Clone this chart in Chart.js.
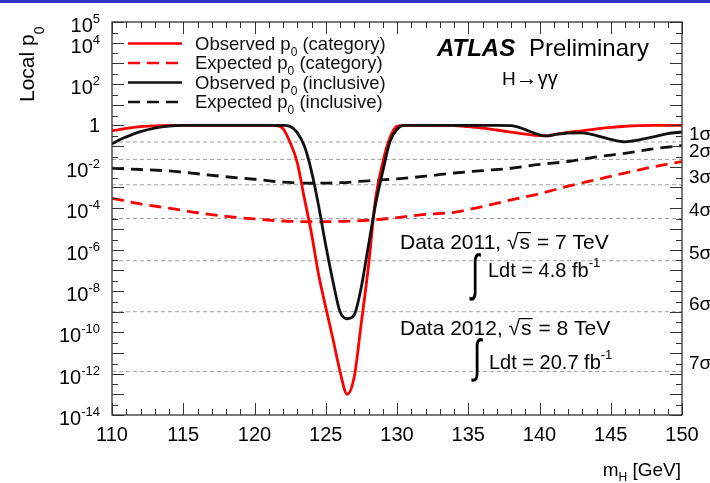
<!DOCTYPE html>
<html>
<head>
<meta charset="utf-8">
<script src="https://cdn.jsdelivr.net/npm/chart.js@4.4.1/dist/chart.umd.min.js"></script>
<style>
  html, body { margin: 0; padding: 0; background: #fff; }
  #wrap { position: relative; width: 710px; height: 483px; }
  #bar { position: absolute; left: 0; top: 0; width: 710px; height: 3px; background: #3434cc; }
  canvas { display: block; }
</style>
</head>
<body>
<div id="wrap">
  <canvas id="chart" width="710" height="483"></canvas>
  <div id="bar"></div>
</div>
<script>
// Higgs mass points (GeV) for the observed curves
const massObs = [110, 110.5, 111, 112, 113, 114, 115, 116, 117, 118, 119, 120, 121, 121.5,
  122, 122.5, 123, 123.5, 124, 124.5, 125, 125.5, 126, 126.5, 127, 127.5, 128, 128.5,
  129, 129.5, 130, 130.5, 131, 132, 133, 134, 135, 136, 137, 138, 139, 140, 140.5,
  141, 142, 143, 144, 145, 146, 147, 148, 149, 150];

const obsCategory = [0.54, 0.63, 0.72, 0.87, 0.95, 1, 1, 1, 1, 1, 1, 1, 1, 0.98,
  0.7, 0.15, 0.016, 3e-4, 6e-6, 6e-8, 1.6e-9, 5e-11, 1.3e-12, 1e-13, 7e-13, 3e-10, 1.6e-7, 3e-4,
  0.016, 0.25, 0.9, 1, 1, 1, 1, 0.99, 0.87, 0.74, 0.6, 0.48, 0.38, 0.32, 0.31,
  0.36, 0.46, 0.55, 0.68, 0.8, 0.91, 0.98, 1, 1, 1];

const obsInclusive = [0.126, 0.2, 0.28, 0.5, 0.74, 0.93, 1, 1, 1, 1, 1, 1, 1, 1,
  1, 0.9, 0.45, 0.1, 6e-3, 1.3e-4, 1.6e-6, 3e-8, 1e-9, 4.5e-10, 7e-10, 1.6e-8, 1.6e-6, 1.6e-4,
  6e-3, 0.16, 0.65, 1, 1, 1, 1, 1, 1, 1, 1, 0.98, 0.63, 0.35, 0.31,
  0.35, 0.43, 0.44, 0.32, 0.21, 0.16, 0.2, 0.28, 0.4, 0.48];

// expected curves are smooth, every 2 GeV
const massExp = [110, 112, 114, 116, 118, 120, 122, 124, 126, 128, 130,
  132, 134, 136, 138, 140, 142, 144, 146, 148, 150];
const expCategory = [3e-4, 1.6e-4, 1e-4, 6e-5, 4e-5, 3e-5, 2.4e-5, 2.2e-5, 2.3e-5, 2.6e-5, 3.5e-5,
  5e-5, 6.3e-5, 1.2e-4, 2.5e-4, 5e-4, 1.15e-3, 2.4e-3, 5e-3, 1e-2, 1.8e-2];
const expInclusive = [8.5e-3, 7.4e-3, 6.3e-3, 4.6e-3, 3.3e-3, 2.5e-3, 1.8e-3, 1.6e-3, 1.7e-3, 2.1e-3, 2.6e-3,
  3.5e-3, 5e-3, 6.5e-3, 8.5e-3, 1.3e-2, 1.8e-2, 3e-2, 4.5e-2, 7.4e-2, 0.107];

const sigmaP = [0.1587, 0.02275, 1.35e-3, 3.17e-5, 2.87e-7, 9.87e-10, 1.28e-12];
const sigmaLabels = ["1σ", "2σ", "3σ", "4σ", "5σ", "6σ", "7σ"];

const xTicks = [110, 115, 120, 125, 130, 135, 140, 145, 150];
const yLabelExps = [5, 4, 2, 0, -2, -4, -6, -8, -10, -12, -14];

const legendNames = ["Observed p", "Expected p", "Observed p", "Expected p"];
const legendTails = [" (category)", " (category)", " (inclusive)", " (inclusive)"];

const FONT = '"Liberation Sans", Arial, Helvetica, sans-serif';

function series(xs, ys) {
  return xs.map((x, i) => ({ x, y: ys[i] }));
}

function drawParts(ctx, parts, x, y) {
  ctx.textAlign = "left";
  for (const p of parts) {
    ctx.font = `${p.style || ""} ${p.size}px ${FONT}`;
    ctx.fillText(p.text, x, y + (p.dy || 0));
    x += ctx.measureText(p.text).width;
  }
  return x;
}

function partsWidth(ctx, parts) {
  let w = 0;
  for (const p of parts) {
    ctx.font = `${p.style || ""} ${p.size}px ${FONT}`;
    w += ctx.measureText(p.text).width;
  }
  return w;
}

// sqrt(s) with an overline, returns end x
function drawSqrtS(ctx, x, y, size) {
  ctx.font = `${size}px ${FONT}`;
  const wr = ctx.measureText("√").width;
  ctx.fillText("√", x, y);
  const ws = ctx.measureText("s").width;
  ctx.fillText("s", x + wr + 1, y);
  ctx.beginPath();
  ctx.lineWidth = 1.2;
  ctx.moveTo(x + wr - 1, y - size * 0.78);
  ctx.lineTo(x + wr + ws + 2, y - size * 0.78);
  ctx.stroke();
  return x + wr + ws + 2;
}

function drawIntegral(ctx, x, yMid, stretch) {
  ctx.save();
  ctx.translate(x, yMid);
  ctx.scale(1.1, stretch);
  ctx.font = `28px ${FONT}`;
  ctx.textBaseline = "middle";
  ctx.textAlign = "left";
  ctx.fillText("∫", 0, 0);
  ctx.restore();
}

const rootFrame = {
  id: "rootFrame",
  afterDraw(chart) {
    const ctx = chart.ctx;
    const area = chart.chartArea;
    const xs = chart.scales.x;
    const ys = chart.scales.y;
    ctx.save();
    ctx.fillStyle = "#000";
    ctx.strokeStyle = "#333";
    ctx.textBaseline = "alphabetic";

    // frame
    ctx.lineWidth = 1.3;
    ctx.strokeRect(area.left, area.top, area.right - area.left, area.bottom - area.top);

    // x ticks, bottom and top, pointing inward
    ctx.lineWidth = 1;
    for (let m = 110; m <= 150; m++) {
      const px = Math.round(xs.getPixelForValue(m)) + 0.5;
      const len = m % 5 === 0 ? 12 : 6;
      ctx.beginPath();
      ctx.moveTo(px, area.bottom); ctx.lineTo(px, area.bottom - len);
      ctx.moveTo(px, area.top); ctx.lineTo(px, area.top + len);
      ctx.stroke();
    }
    // y ticks, left and right
    for (let e = -14; e <= 5; e++) {
      const py = Math.round(ys.getPixelForValue(Math.pow(10, e))) + 0.5;
      ctx.beginPath();
      ctx.moveTo(area.left, py); ctx.lineTo(area.left + 12, py);
      ctx.moveTo(area.right, py); ctx.lineTo(area.right - 12, py);
      ctx.stroke();
      if (e < 5) {
        const ph = Math.round(ys.getPixelForValue(3 * Math.pow(10, e))) + 0.5;
        ctx.beginPath();
        ctx.moveTo(area.left, ph); ctx.lineTo(area.left + 6, ph);
        ctx.moveTo(area.right, ph); ctx.lineTo(area.right - 6, ph);
        ctx.stroke();
      }
    }

    // x tick labels
    ctx.font = `20px ${FONT}`;
    ctx.textAlign = "center";
    for (const t of xTicks) {
      ctx.fillText(String(t), xs.getPixelForValue(t), area.bottom + 26);
    }

    // y tick labels 10^n
    for (const e of yLabelExps) {
      const py = ys.getPixelForValue(Math.pow(10, e));
      const parts = e === 0
        ? [{ text: "1", size: 20 }]
        : [{ text: "10", size: 20 }, { text: String(e), size: 13, dy: -9 }];
      const w = partsWidth(ctx, parts);
      drawParts(ctx, parts, 100 - w, py + (e === 0 ? 7 : 10));
    }

    // axis titles
    const xt = [{ text: "m", size: 19 }, { text: "H", size: 12, dy: 5 }, { text: " [GeV]", size: 19 }];
    drawParts(ctx, xt, 681 - partsWidth(ctx, xt), 476);

    ctx.save();
    ctx.translate(34, 102);
    ctx.rotate(-Math.PI / 2);
    drawParts(ctx, [{ text: "Local p", size: 21 }, { text: "0", size: 14, dy: 10 }], 0, 0);
    ctx.restore();

    // sigma labels on the right
    ctx.font = `19px ${FONT}`;
    ctx.textAlign = "left";
    sigmaP.forEach((p, i) => {
      ctx.fillText(sigmaLabels[i], 689, ys.getPixelForValue(p) - 2);
    });

    // legend
    const rowsY = [43.5, 63, 82.5, 102];
    const lineSets = chart.data.datasets.filter((d) => d.legend);
    lineSets.forEach((d, i) => {
      ctx.save();
      ctx.strokeStyle = d.borderColor;
      ctx.lineWidth = 2.6;
      ctx.setLineDash(d.borderDash || []);
      ctx.beginPath();
      ctx.moveTo(128, rowsY[i]); ctx.lineTo(182, rowsY[i]);
      ctx.stroke();
      ctx.restore();
      ctx.fillStyle = "#111";
      drawParts(ctx, [
        { text: legendNames[i], size: 18.5 },
        { text: "0", size: 12, dy: 6 },
        { text: legendTails[i], size: 18.5 }
      ], 195, rowsY[i] + 6);
    });

    // ATLAS label
    ctx.fillStyle = "#000";
    drawParts(ctx, [{ text: "ATLAS", size: 24, style: "italic bold" }], 437, 56);
    drawParts(ctx, [{ text: "Preliminary", size: 24 }], 529, 56);
    drawParts(ctx, [{ text: "H", size: 19 }, { text: "→", size: 22 }, { text: "γγ", size: 20 }], 502, 85);

    // data / luminosity texts
    ctx.strokeStyle = "#000";
    let x = drawParts(ctx, [{ text: "Data 2011, ", size: 21 }], 400, 249);
    x = drawSqrtS(ctx, x, 249, 21);
    drawParts(ctx, [{ text: " = 7 TeV", size: 21 }], x, 249);
    drawIntegral(ctx, 471, 276, 1.8);
    drawParts(ctx, [{ text: "Ldt = 4.8 fb", size: 20 }, { text: "-1", size: 13, dy: -10 }], 488, 277);

    x = drawParts(ctx, [{ text: "Data 2012, ", size: 21 }], 400, 335);
    x = drawSqrtS(ctx, x, 335, 21);
    drawParts(ctx, [{ text: " = 8 TeV", size: 21 }], x, 335);
    drawIntegral(ctx, 473, 359, 1.65);
    drawParts(ctx, [{ text: "Ldt = 20.7 fb", size: 20 }, { text: "-1", size: 13, dy: -10 }], 489, 369);

    ctx.restore();
  }
};

const sigmaSets = sigmaP.map((p) => ({
  data: [{ x: 110, y: p }, { x: 150, y: p }],
  borderColor: "#a0a0a0",
  borderWidth: 1,
  borderDash: [4, 3],
  tension: 0,
  order: 10
}));

new Chart(document.getElementById("chart"), {
  type: "line",
  data: {
    datasets: [
      { legend: true, label: "Observed p0 (category)", data: series(massObs, obsCategory),
        borderColor: "#ff0000", borderWidth: 2.8, order: 2 },
      { legend: true, label: "Expected p0 (category)", data: series(massExp, expCategory),
        borderColor: "#ff0000", borderWidth: 2.8, borderDash: [12, 7], order: 4 },
      { legend: true, label: "Observed p0 (inclusive)", data: series(massObs, obsInclusive),
        borderColor: "#111111", borderWidth: 2.8, order: 1 },
      { legend: true, label: "Expected p0 (inclusive)", data: series(massExp, expInclusive),
        borderColor: "#111111", borderWidth: 2.8, borderDash: [12, 7], order: 3 },
      ...sigmaSets
    ]
  },
  options: {
    responsive: false,
    animation: false,
    layout: { padding: { left: 112, right: 28, top: 22, bottom: 68 } },
    plugins: { legend: { display: false }, tooltip: { enabled: false } },
    elements: {
      point: { radius: 0 },
      line: { cubicInterpolationMode: "monotone", borderCapStyle: "butt" }
    },
    scales: {
      x: { type: "linear", min: 110, max: 150, display: false },
      y: { type: "logarithmic", min: 1e-14, max: 1e5, display: false }
    }
  },
  plugins: [rootFrame]
});
</script>
</body>
</html>
